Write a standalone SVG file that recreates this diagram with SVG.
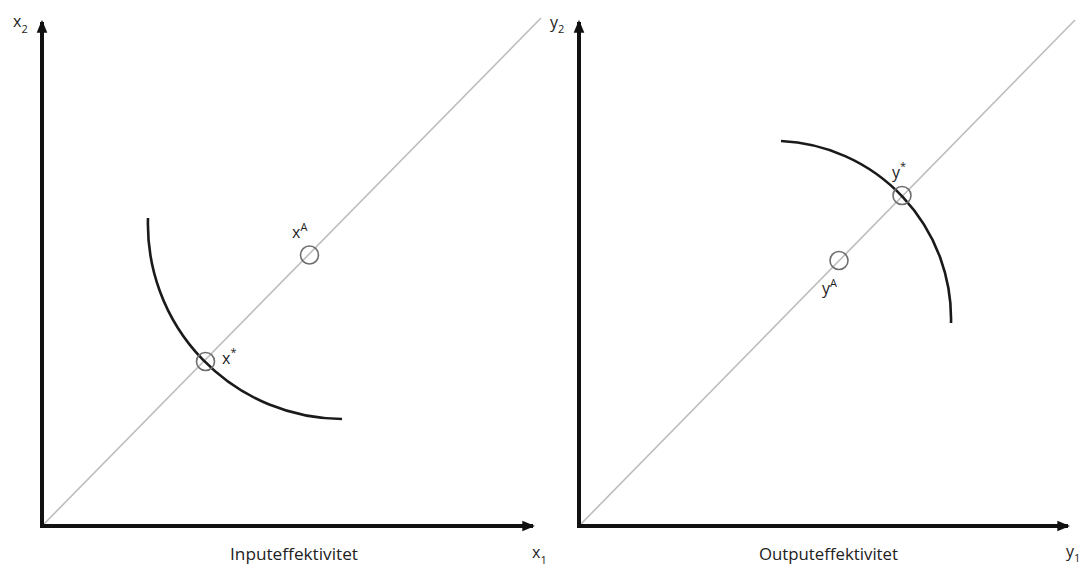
<svg xmlns="http://www.w3.org/2000/svg" width="1081" height="568" viewBox="0 0 1081 568">
<style>
.axis{stroke:#111;stroke-width:4;fill:none}
.diag{stroke:#bdbdbd;stroke-width:1.6;fill:none}
.curve{stroke:#1a1a1a;stroke-width:2.6;fill:none}
.pt{stroke:#6e6e6e;stroke-width:1.6;fill:none}
.lbl{font-family:"Open Sans","Liberation Sans",sans-serif;fill:#222}
.sub{font-family:"Open Sans","Liberation Sans",sans-serif;fill:#222;font-size:11px}
</style>
<defs>
<marker id="ah" viewBox="0 0 12 10" refX="10" refY="5" markerWidth="3.2" markerHeight="2.8" orient="auto" markerUnits="strokeWidth">
<path d="M0,0 L12,5 L0,10 Z" fill="#111"/>
</marker>
</defs>
<rect width="1081" height="568" fill="#fff"/>
<g id="left-panel">
<g id="left-connectors">
<line class="diag" x1="42" y1="526" x2="541" y2="18"/>
<path class="curve" d="M148,218 A195,195 0 0,0 342,419"/>
<line class="axis" x1="42" y1="528" x2="42" y2="22" marker-end="url(#ah)"/>
<line class="axis" x1="40" y1="526" x2="533" y2="526" marker-end="url(#ah)"/>
</g>
<g id="xA"><circle class="pt" cx="309.5" cy="255" r="9"/><text class="lbl" x="292" y="238" font-size="16">x<tspan font-size="11" dy="-7">A</tspan></text></g>
<g id="xstar"><circle class="pt" cx="205.5" cy="361.5" r="9"/><text class="lbl" x="222" y="364" font-size="16">x<tspan font-size="11" dy="-8">*</tspan></text></g>
<text class="lbl" x="13" y="27" font-size="16">x<tspan class="sub" dy="6">2</tspan></text>
<text class="lbl" x="532" y="558" font-size="16">x<tspan class="sub" dy="6">1</tspan></text>
<text class="lbl" x="230" y="560" font-size="16" textLength="128" lengthAdjust="spacingAndGlyphs">Inputeffektivitet</text>
</g>
<g id="right-panel">
<g id="right-connectors">
<line class="diag" x1="579" y1="526" x2="1075" y2="20"/>
<path class="curve" d="M781,141 A178,178 0 0,1 951,323"/>
<line class="axis" x1="579" y1="528" x2="579" y2="22" marker-end="url(#ah)"/>
<line class="axis" x1="577" y1="526" x2="1068" y2="526" marker-end="url(#ah)"/>
</g>
<g id="yA"><circle class="pt" cx="839" cy="260.5" r="9"/><text class="lbl" x="822" y="294" font-size="16">y<tspan font-size="11" dy="-7">A</tspan></text></g>
<g id="ystar"><circle class="pt" cx="902" cy="195.5" r="9"/><text class="lbl" x="892" y="178" font-size="16">y<tspan font-size="11" dy="-8">*</tspan></text></g>
<text class="lbl" x="550" y="28" font-size="16">y<tspan class="sub" dy="5">2</tspan></text>
<text class="lbl" x="1066" y="557" font-size="16">y<tspan class="sub" dy="5">1</tspan></text>
<text class="lbl" x="759" y="560" font-size="16" textLength="139" lengthAdjust="spacingAndGlyphs">Outputeffektivitet</text>
</g>
</svg>
